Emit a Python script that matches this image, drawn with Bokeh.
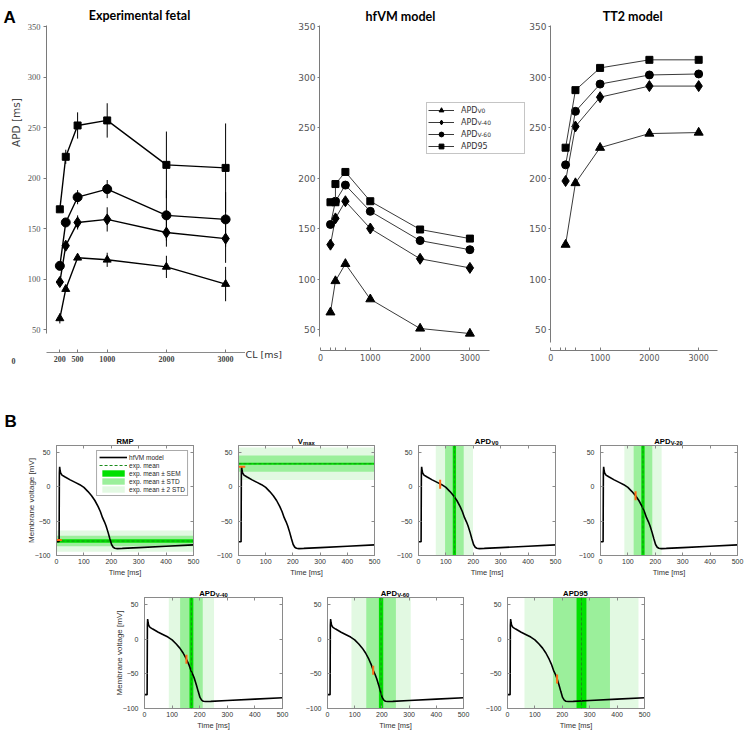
import math

from bokeh.plotting import figure
from bokeh.models import (Range1d, FixedTicker, Legend, LegendItem,
                          BoxAnnotation, Span, LinearAxis, Spacer)
from bokeh.layouts import row, column
from bokeh.core.properties import value
from bokeh.embed import file_html
from bokeh.resources import INLINE

# ---------------- Panel A: APD restitution (APD vs cycle length) ----------------
cl_exp = [200, 300, 500, 1000, 2000, 3000]
exp_apd_v0 = [61, 90, 121, 119, 112, 95]
exp_apd_v0_sd = [5, 0, 0, 7, 11, 17]
exp_apd_v40 = [97, 133, 156, 159, 146, 140]
exp_apd_v40_sd = [0, 0, 7, 12, 14, 24]
exp_apd_v60 = [113, 156, 181, 189, 163, 159]
exp_apd_v60_sd = [0, 0, 7, 9, 25, 27]
exp_apd95 = [169, 221, 252, 257, 213, 210]
exp_apd95_sd = [0, 7, 13, 17, 33, 44]

cl_hfvm = [200, 300, 500, 1000, 2000, 3000]
hfvm_apd_v0 = [67, 98, 115, 80, 51, 46]
hfvm_apd_v40 = [134, 160, 177, 150, 120, 111]
hfvm_apd_v60 = [154, 177, 193, 167, 138, 129]
cl_hfvm_95 = [200, 300, 300, 500, 1000, 2000, 3000]
hfvm_apd95 = [176, 176, 194, 206, 177, 149, 140]

cl_tt2 = [300, 500, 1000, 2000, 3000]
tt2_apd_v0 = [134, 195, 230, 244, 245]
tt2_apd_v40 = [197, 251, 280, 291, 291]
tt2_apd_v60 = [213, 266, 293, 302, 303]
tt2_apd95 = [230, 287, 309, 317, 317]

apd_ticks = [50, 100, 150, 200, 250, 300, 350]
exp_cl_ticks = [200, 500, 1000, 2000, 3000]
model_cl_ticks = [0, 200, 300, 500, 1000, 2000, 3000]

# ---------------- Panel B: hfVM action potential vs experimental ranges ----------------
ap_time = [0, 9.5, 10.5, 11.5, 13, 15, 20, 30, 50, 70, 85, 100, 115, 128, 140,
           152, 160, 168, 175, 181, 188, 195, 201, 207, 213, 222, 240, 300, 400, 500]
ap_voltage = [-80, -80, 20, 29, 24, 20, 17, 14.5, 10, 6, 3, -1, -7, -13, -20,
              -29, -36, -45, -51, -57, -66, -76, -84, -88, -89.5, -90, -89.7, -88.5, -86.5, -84.5]

biomarker_titles = [("RMP", ""), ("V", "max"), ("APD", "V0"), ("APD", "V-20"),
                    ("APD", "V-40"), ("APD", "V-60"), ("APD95", "")]
exp_mean = [-79, 33.5, 131, 155, 170, 197, 270]
exp_sem = [2.5, 1.5, 6, 6, 7, 8, 18]
exp_std = [7.7, 11.8, 34, 34, 41, 54.5, 104]
model_time = [7, 12, 79, 128, 152, 168, 181]
model_voltage = [-77.5, 29, 3.5, -13, -29, -45, -57.5]

time_ticks = [0, 100, 200, 300, 400, 500]
volt_ticks = [-100, -50, 0, 50]

SEM_GREEN = "#00e000"
STD_GREEN = "#9bef9b"
STD2_GREEN = "#e2f9e2"
MEAN_GREEN = "#1a8c1a"
ORANGE = "#ff6a13"
BOX_GRAY = "#8a8a8a"


class Frame:
    """Maps page pixel positions onto the data space of one plot frame."""

    def __init__(self, left, top, width, height, x0, x1, y0, y1):
        self.left, self.top, self.width, self.height = left, top, width, height
        self.x0, self.x1, self.y0, self.y1 = x0, x1, y0, y1

    def x(self, px):
        return self.x0 + (px - self.left) / self.width * (self.x1 - self.x0)

    def y(self, py):
        return self.y1 - (py - self.top) / self.height * (self.y1 - self.y0)


def free_frame(p):
    """Keep each plot's frame where its own borders put it."""
    if "frame_align" in p.properties():
        p.frame_align = False
    return p


def put_text(p, x, y, text, size, font="Liberation Sans", style="normal",
             color="black", align="left", baseline="alphabetic", angle=0.0):
    p.text(x=[x], y=[y], text=[text], text_font=value(font), text_font_size=f"{size}px",
           text_font_style=style, text_color=color, text_align=align,
           text_baseline=baseline, angle=angle)


def text_strip(width, height):
    """A bare frame used to hold free-standing text; data units are page pixels."""
    p = figure(width=width, height=height, x_range=Range1d(0, width),
               y_range=Range1d(height, 0), x_axis_type=None, y_axis_type=None,
               min_border=0, min_border_left=0, min_border_right=0,
               min_border_top=0, min_border_bottom=0,
               toolbar_location=None, output_backend="svg")
    p.xgrid.visible = False
    p.ygrid.visible = False
    p.outline_line_color = None
    p.background_fill_color = "white"
    p.border_fill_color = "white"
    return free_frame(p)


BOLD_W = {"A": .722, "P": .667, "D": .722, "V": .667, "R": .722, "M": .833,
          "m": .889, "a": .556, "x": .556, "-": .333}


def bold_width(s, size):
    return sum(BOLD_W.get(c, .556) for c in s) * size


# ---------------- Panel A figures ----------------
A_H = 372


def apd_fig(fig_left, fig_right, frame_left, frame_bottom, x_zero, x_slope):
    def x_of(px):
        return (px - x_zero) / x_slope

    def y_of(py):
        return 350 - (py - 26) / 1.01

    fr = Frame(frame_left, 0, fig_right - frame_left, frame_bottom,
               x_of(frame_left), x_of(fig_right), y_of(frame_bottom), y_of(0))
    p = figure(width=fig_right - fig_left, height=A_H,
               min_border_left=frame_left - fig_left, min_border_right=0,
               min_border_top=0, min_border_bottom=A_H - frame_bottom,
               x_range=Range1d(fr.x0, fr.x1), y_range=Range1d(fr.y0, fr.y1),
               toolbar_location=None, output_backend="svg")
    free_frame(p)
    p.xgrid.visible = False
    p.ygrid.visible = False
    p.outline_line_color = None
    p.background_fill_color = "white"
    p.border_fill_color = "white"
    p.yaxis.ticker = FixedTicker(ticks=apd_ticks)
    p.yaxis.major_tick_in = 0
    p.yaxis.major_tick_out = 3
    p.xaxis.major_tick_in = 3
    p.xaxis.major_tick_out = 0
    for ax in (p.xaxis[0], p.yaxis[0]):
        ax.minor_tick_line_color = None
        ax.axis_line_color = "#7a7a7a"
        ax.major_tick_line_color = "#7a7a7a"
        ax.major_label_standoff = 3
    return p, fr


# Left strip: panel letter, axis title and the origin label
a_strip = text_strip(24, A_H)
put_text(a_strip, 3, 17, "A", 17, style="bold")
put_text(a_strip, 15, 122, "APD [ms]", 10.5, font="DejaVu Sans", color="#444444",
         align="center", baseline="middle", angle=math.pi / 2)
put_text(a_strip, 13, 360, "0", 8, font="Liberation Serif", style="bold", color="#444444",
         align="center", baseline="middle")

# Experimental fetal
p1, f1 = apd_fig(24, 245, 45, 352, 46.5, 0.0595)
p1.yaxis.bounds = (46, 351)
p1.xaxis.ticker = FixedTicker(ticks=exp_cl_ticks)
p1.yaxis.major_label_text_font = "Liberation Serif"
p1.yaxis.major_label_text_font_size = "8.5px"
p1.yaxis.major_label_text_color = "#555555"
p1.xaxis.major_label_text_font = "Liberation Serif"
p1.xaxis.major_label_text_font_size = "8px"
p1.xaxis.major_label_text_font_style = "bold"
p1.xaxis.major_label_text_color = "#444444"
p1.xaxis.axis_line_color = "#8a8a8a"

exp_series = [(exp_apd_v0, exp_apd_v0_sd, "triangle", 8),
              (exp_apd_v40, exp_apd_v40_sd, "diamond", 11),
              (exp_apd_v60, exp_apd_v60_sd, "circle", 9),
              (exp_apd95, exp_apd95_sd, "square", 7)]
for vals, sd, marker, size in exp_series:
    idx = [i for i, s in enumerate(sd) if s > 0]
    p1.segment(x0=[cl_exp[i] for i in idx], x1=[cl_exp[i] for i in idx],
               y0=[vals[i] - sd[i] for i in idx], y1=[vals[i] + sd[i] for i in idx],
               line_color="black", line_width=1)
    p1.line(cl_exp, vals, line_color="black", line_width=1.4)
    p1.scatter(cl_exp, vals, marker=marker, size=size, color="black")
put_text(p1, f1.x(140), f1.y(15), "Experimental  fetal", 12.5, font="Lato", style="bold",
         align="center")

# Cycle-length axis title sits to the right of the experimental axis
cl_strip = text_strip(40, A_H)
put_text(cl_strip, 0, 354, "CL [ms]", 9.5, font="DejaVu Sans", color="#333333",
         baseline="middle")


def model_panel(p, fr, title, title_x, series):
    p.yaxis.bounds = (43, 351)
    p.xaxis.bounds = (0, 3394)
    p.xaxis.ticker = FixedTicker(ticks=model_cl_ticks)
    p.xaxis.major_label_overrides = {200: "", 300: "", 500: ""}
    for ax in (p.xaxis[0], p.yaxis[0]):
        ax.major_label_text_font = "DejaVu Sans"
        ax.major_label_text_color = "#555555"
    p.yaxis.major_label_text_font_size = "9px"
    p.xaxis.major_label_text_font_size = "8px"
    p.yaxis.major_label_standoff = 2
    p.yaxis.major_tick_out = 2
    handles = []
    for (xs, vals, marker, size) in series:
        ln = p.line(xs, vals, line_color="#3a3a3a", line_width=1)
        sc = p.scatter(xs, vals, marker=marker, size=size, color="black")
        handles.append((ln, sc))
    put_text(p, fr.x(title_x), fr.y(16), title, 12.5, font="Lato", style="bold", align="center")
    return handles


# hfVM model
p2, f2 = apd_fig(285, 526, 319, 350, 320, 0.0498)
h2 = model_panel(p2, f2, "hfVM model", 400,
                 [(cl_hfvm, hfvm_apd_v0, "triangle", 9),
                  (cl_hfvm, hfvm_apd_v40, "diamond", 11),
                  (cl_hfvm, hfvm_apd_v60, "circle", 8),
                  (cl_hfvm_95, hfvm_apd95, "square", 7)])
legend_labels = ["APD", "APD", "APD", "APD95"]
legend_subs = ["V0", "V-40", "V-60", ""]
# the box sits in an empty corner, so it is left unfilled and the subscripts show through
leg = Legend(items=[LegendItem(label=lab, renderers=list(h)) for lab, h in zip(legend_labels, h2)],
             location=(107, 196), orientation="vertical", padding=1, spacing=0, margin=0,
             glyph_width=26, glyph_height=12, label_height=12, label_width=62, label_standoff=7,
             label_text_font="DejaVu Sans", label_text_font_size="8px", label_text_color="#333333",
             border_line_color="#8c8c8c", border_line_width=1,
             background_fill_color=None, background_fill_alpha=0)
p2.add_layout(leg)
apd_w8 = (0.684 + 0.603 + 0.770) * 8
for k, sub in enumerate(legend_subs):
    if sub:
        put_text(p2, f2.x(460 + apd_w8 + 0.5), f2.y(109.5 + 12 * k), sub, 6,
                 font="DejaVu Sans", color="#333333")

# TT2 model
p3, f3 = apd_fig(526, 744, 548, 350, 548.3, 0.0498)
model_panel(p3, f3, "TT2 model", 631,
            [(cl_tt2, tt2_apd_v0, "triangle", 9),
             (cl_tt2, tt2_apd_v40, "diamond", 11),
             (cl_tt2, tt2_apd_v60, "circle", 8),
             (cl_tt2, tt2_apd95, "square", 7)])
p3.yaxis.bounds = (37, 351)
p3.xaxis.bounds = (0, 3388)

# ---------------- Panel B figures ----------------


def blank_axis(ticks):
    return LinearAxis(ticker=FixedTicker(ticks=ticks),
                      major_label_overrides={t: "" for t in ticks},
                      major_label_text_font_size="0px",
                      major_label_standoff=0, major_tick_in=3, major_tick_out=0,
                      minor_tick_line_color=None, axis_line_color=BOX_GRAY,
                      major_tick_line_color=BOX_GRAY)


def biomarker_fig(i, fig_w, bl, br, row_h, bb, ylabel=False):
    p = figure(width=fig_w, height=row_h, min_border_left=bl, min_border_right=br,
               min_border_top=0, min_border_bottom=bb,
               x_range=Range1d(0, 500), y_range=Range1d(-100, 60),
               toolbar_location=None, output_backend="svg")
    free_frame(p)
    p.xgrid.visible = False
    p.ygrid.visible = False
    p.outline_line_color = BOX_GRAY
    p.background_fill_color = "white"
    p.border_fill_color = "white"
    p.xaxis.ticker = FixedTicker(ticks=time_ticks)
    p.yaxis.ticker = FixedTicker(ticks=volt_ticks)
    for ax in (p.xaxis[0], p.yaxis[0]):
        ax.major_tick_in = 3
        ax.major_tick_out = 0
        ax.minor_tick_line_color = None
        ax.axis_line_color = BOX_GRAY
        ax.major_tick_line_color = BOX_GRAY
        ax.major_label_text_font = "Liberation Sans"
        ax.major_label_text_font_size = "7px"
        ax.major_label_text_color = "#333333"
    p.yaxis.major_label_standoff = 6
    p.xaxis.major_label_standoff = 3
    p.xaxis.axis_label = "Time [ms]"
    p.xaxis.axis_label_text_font = "Liberation Sans"
    p.xaxis.axis_label_text_font_size = "7.5px"
    p.xaxis.axis_label_text_font_style = "normal"
    p.xaxis.axis_label_text_color = "#333333"
    p.xaxis.axis_label_standoff = 1
    if ylabel:
        p.yaxis.axis_label = "Membrane voltage [mV]"
        p.yaxis.axis_label_text_font = "Liberation Sans"
        p.yaxis.axis_label_text_font_size = "8px"
        p.yaxis.axis_label_text_font_style = "normal"
        p.yaxis.axis_label_text_color = "#333333"
        p.yaxis.axis_label_standoff = -4
    p.add_layout(blank_axis(time_ticks), "above")
    p.add_layout(blank_axis(volt_ticks), "right")

    m, se, sd = exp_mean[i], exp_sem[i], exp_std[i]
    rend = {}
    if i < 2:
        # voltage biomarkers: bands across the whole trace
        rend["2sd"] = p.hbar(y=[m], height=[4 * sd], left=0, right=500,
                             fill_color=STD2_GREEN, line_color=None)
        rend["sd"] = p.hbar(y=[m], height=[2 * sd], left=0, right=500,
                            fill_color=STD_GREEN, line_color=None)
        rend["sem"] = p.hbar(y=[m], height=[2 * se], left=0, right=500,
                             fill_color=SEM_GREEN, line_color=None)
        rend["mean"] = p.line([0, 500], [m, m], line_color=MEAN_GREEN, line_width=1,
                              line_dash="3 2")
    else:
        # duration biomarkers: bands over time
        for k, col in ((2, STD2_GREEN), (1, STD_GREEN)):
            p.add_layout(BoxAnnotation(left=m - k * sd, right=m + k * sd, fill_color=col,
                                       fill_alpha=1, line_color=None, level="underlay"))
        p.add_layout(BoxAnnotation(left=m - se, right=m + se, fill_color=SEM_GREEN,
                                   fill_alpha=1, line_color=None, level="underlay"))
        p.add_layout(Span(location=m, dimension="height", line_color=MEAN_GREEN,
                          line_width=1, line_dash="3 2"))
    rend["ap"] = p.line(ap_time, ap_voltage, line_color="black", line_width=1.6)
    p.scatter([model_time[i]], [model_voltage[i]], marker="dash",
              size=7 if i < 2 else 9, angle=0 if i < 2 else math.pi / 2,
              line_color=ORANGE, line_width=2)
    return p, rend


def add_title(strip, i, frame_left, frame_w, base):
    main, sub = biomarker_titles[i]
    cx = frame_left + frame_w / 2
    w_main = bold_width(main, 7.7)
    w_sub = bold_width(sub, 5.8) if sub else 0
    x_start = cx - (w_main + w_sub) / 2
    put_text(strip, x_start, base, main, 7.7, style="bold")
    if sub:
        put_text(strip, x_start + w_main + 0.3, base + 2.0, sub, 5.8, style="bold")


# Row 1: RMP, Vmax, APD_V0, APD_V-20 ; Row 2: APD_V-40, APD_V-60, APD95
S1_H, R1_H = 73, 139
S2_H, R2_H = 13, 135
row1_specs = [(213, 56, 20), (180, 24, 19), (182, 24, 20), (169, 24, 7)]
row2_specs = [(202, 44, 20), (180, 24, 19), (262, 24, 100)]

strip1 = text_strip(744, S1_H)
put_text(strip1, 4, 49, "B", 17, style="bold")
row1 = []
left = 0
for i, (fw, bl, br) in enumerate(row1_specs):
    p, rend = biomarker_fig(i, fw, bl, br, R1_H, 29, ylabel=(i == 0))
    add_title(strip1, i, left + bl, fw - bl - br, 68.5)
    if i == 0:
        rmp_leg = Legend(items=[LegendItem(label="hfVM model", renderers=[rend["ap"]]),
                                LegendItem(label="exp. mean", renderers=[rend["mean"]]),
                                LegendItem(label="exp. mean \u00b1 SEM", renderers=[rend["sem"]]),
                                LegendItem(label="exp. mean \u00b1 STD", renderers=[rend["sd"]]),
                                LegendItem(label="exp. mean \u00b1 2 STD", renderers=[rend["2sd"]])],
                         location="top_right", margin=5, padding=2, spacing=0,
                         glyph_width=28, glyph_height=8, label_height=8, label_standoff=2,
                         label_text_font="Liberation Sans", label_text_font_size="6.5px",
                         label_text_color="#262626", border_line_color="#555555",
                         border_line_width=0.8, background_fill_color="white",
                         background_fill_alpha=1)
        p.add_layout(rmp_leg)
    row1.append(p)
    left += fw

strip2 = text_strip(744, S2_H)
row2 = [Spacer(width=100, height=R2_H)]
left = 100
for j, (fw, bl, br) in enumerate(row2_specs):
    p, rend = biomarker_fig(4 + j, fw, bl, br, R2_H, 24, ylabel=(j == 0))
    add_title(strip2, 4 + j, left + bl, fw - bl - br, 8.5)
    row2.append(p)
    left += fw

layout = column(row(a_strip, p1, cl_strip, p2, p3), strip1, row(*row1), strip2, row(*row2))

open("out.html", "w").write(file_html(layout, INLINE, title="APD restitution and hfVM biomarkers"))
